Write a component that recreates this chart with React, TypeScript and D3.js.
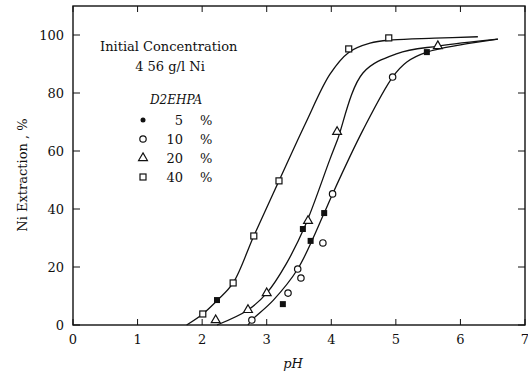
import { useEffect, useRef } from "react"
import * as d3 from "d3"

// pH values and Ni extraction (%)
const pH5 = [2.23, 3.25, 3.56, 3.68, 3.89, 5.48]
const ext5 = [8.6, 7.2, 33.1, 29.0, 38.6, 94.1]

const pH10 = [2.77, 3.33, 3.48, 3.53, 3.87, 4.02, 4.95]
const ext10 = [1.7, 11.0, 19.3, 16.2, 28.3, 45.2, 85.5]

const pH20 = [2.21, 2.71, 3.0, 3.64, 4.09, 5.65]
const ext20 = [1.7, 5.2, 11.0, 35.9, 66.6, 96.2]

const pH40 = [2.01, 2.48, 2.8, 3.19, 4.27, 4.89]
const ext40 = [3.8, 14.5, 30.7, 49.7, 95.2, 99.0]

// hand-drawn smoothed curves
const curveA_pH = [1.76, 2.01, 2.24, 2.48, 2.8, 3.19, 3.6, 3.98, 4.27, 4.6, 4.95, 5.6, 6.27]
const curveA_ext = [0, 3.8, 8.6, 14.5, 30.7, 49.7, 69.5, 86.5, 94.0, 97.2, 98.3, 98.9, 99.4]
const curveB_pH = [2.23, 2.71, 3.0, 3.3, 3.6, 3.98, 4.09, 4.49, 5.02, 5.65, 6.58]
const curveB_ext = [0, 5.2, 11, 21, 34.5, 57.2, 63.5, 86.9, 93.6, 96.2, 98.6]
const curveC_pH = [2.71, 2.77, 3.1, 3.48, 3.89, 4.02, 4.49, 4.95, 5.17, 5.48, 6.0, 6.58]
const curveC_ext = [0, 1.7, 8.5, 19.3, 38.6, 45.2, 67.2, 85.5, 90.7, 94.1, 96.6, 98.6]

const xTicks = [0, 1, 2, 3, 4, 5, 6, 7]
const yTicks = [0, 20, 40, 60, 80, 100]

const legendSymbols = ["filled", "circle", "triangle", "square"]
const legendLabels = ["5", "10", "20", "40"]

const font = "'DejaVu Serif', 'Liberation Serif', serif"

export default function App() {
  const svgRef = useRef<SVGSVGElement>(null)

  useEffect(() => {
    if (!svgRef.current) return
    const svg = d3.select(svgRef.current)
    svg.selectAll("*").remove()

    const x = d3.scaleLinear().domain([0, 7]).range([73, 525])
    const y = d3.scaleLinear().domain([0, 110]).range([325, 6])

    const g = svg.append("g")

    // frame
    g.append("rect")
      .attr("x", x(0))
      .attr("y", y(110))
      .attr("width", x(7) - x(0))
      .attr("height", y(0) - y(110))
      .attr("fill", "none")
      .attr("stroke", "#111")
      .attr("stroke-width", 1.4)

    // ticks
    xTicks.forEach((t) => {
      g.append("line").attr("x1", x(t)).attr("x2", x(t)).attr("y1", y(0)).attr("y2", y(0) - 6).attr("stroke", "#111")
      g.append("line").attr("x1", x(t)).attr("x2", x(t)).attr("y1", y(110)).attr("y2", y(110) + 6).attr("stroke", "#111")
      g.append("text")
        .attr("x", x(t))
        .attr("y", y(0) + 19)
        .attr("text-anchor", "middle")
        .attr("font-family", font)
        .attr("font-size", 13)
        .attr("fill", "#111")
        .text(t)
    })
    yTicks.forEach((t) => {
      g.append("line").attr("x1", x(0)).attr("x2", x(0) + 7).attr("y1", y(t)).attr("y2", y(t)).attr("stroke", "#111")
      g.append("line").attr("x1", x(7)).attr("x2", x(7) - 7).attr("y1", y(t)).attr("y2", y(t)).attr("stroke", "#111")
      g.append("text")
        .attr("x", x(0) - 9)
        .attr("y", y(t) + 5)
        .attr("text-anchor", "end")
        .attr("font-family", font)
        .attr("font-size", 13)
        .attr("fill", "#111")
        .text(t)
    })

    // axis titles
    g.append("text")
      .attr("x", 293)
      .attr("y", 368)
      .attr("text-anchor", "middle")
      .attr("font-family", font)
      .attr("font-size", 13)
      .attr("font-style", "italic")
      .attr("fill", "#111")
      .text("pH")
    g.append("text")
      .attr("transform", "translate(27,175) rotate(-90)")
      .attr("text-anchor", "middle")
      .attr("font-family", font)
      .attr("font-size", 13)
      .attr("fill", "#111")
      .text("Ni Extraction , %")

    // curves
    const line = d3
      .line<[number, number]>()
      .x((d) => x(d[0]))
      .y((d) => y(d[1]))
      .curve(d3.curveCatmullRom.alpha(0.5))
    const curves = [
      d3.zip(curveA_pH, curveA_ext),
      d3.zip(curveB_pH, curveB_ext),
      d3.zip(curveC_pH, curveC_ext),
    ] as [number, number][][]
    curves.forEach((c) => {
      g.append("path").attr("d", line(c)).attr("fill", "none").attr("stroke", "#111").attr("stroke-width", 1.3)
    })

    // markers
    const drawMarker = (sel: d3.Selection<SVGGElement, unknown, null, undefined>, kind: string, cx: number, cy: number) => {
      if (kind === "filled") {
        sel.append("rect").attr("x", cx - 3).attr("y", cy - 3).attr("width", 6).attr("height", 6).attr("fill", "#111")
      } else if (kind === "circle") {
        sel.append("circle").attr("cx", cx).attr("cy", cy).attr("r", 3.2).attr("fill", "#fff").attr("stroke", "#111").attr("stroke-width", 1.2)
      } else if (kind === "triangle") {
        const tri = d3.symbol().type(d3.symbolTriangle).size(34)
        sel.append("path").attr("transform", `translate(${cx},${cy})`).attr("d", tri()).attr("fill", "#fff").attr("stroke", "#111").attr("stroke-width", 1.2)
      } else {
        sel.append("rect").attr("x", cx - 3).attr("y", cy - 3).attr("width", 6).attr("height", 6).attr("fill", "#fff").attr("stroke", "#111").attr("stroke-width", 1.2)
      }
    }

    const series: [number[], number[], string][] = [
      [pH40, ext40, "square"],
      [pH20, ext20, "triangle"],
      [pH10, ext10, "circle"],
      [pH5, ext5, "filled"],
    ]
    const mg = g.append("g")
    series.forEach(([xs, ys, kind]) => {
      xs.forEach((v, i) => drawMarker(mg, kind, x(v), y(ys[i])))
    })

    // annotation and legend
    const ann = g.append("g").attr("font-family", font).attr("fill", "#111").attr("font-size", 13)
    ann.append("text").attr("x", 100).attr("y", 51).text("Initial Concentration")
    ann.append("text").attr("x", 170).attr("y", 71).attr("text-anchor", "middle").text("4 56 g/l   Ni")
    ann.append("text").attr("x", 150).attr("y", 104).attr("font-style", "italic").attr("font-size", 12).text("D2EHPA")
    const lg = g.append("g")
    legendSymbols.forEach((s, i) => {
      const ly = 120 + i * 19
      if (s === "filled") {
        lg.append("circle").attr("cx", 143).attr("cy", ly).attr("r", 2.5).attr("fill", "#111")
      } else {
        drawMarker(lg, s, 143, ly)
      }
      ann.append("text").attr("x", 183).attr("y", ly + 5).attr("text-anchor", "end").text(legendLabels[i])
      ann.append("text").attr("x", 200).attr("y", ly + 5).text("%")
    })
  }, [])

  return (
    <svg
      ref={svgRef}
      width={528}
      height={382}
      style={{ position: "absolute", left: 0, top: 0, background: "#fff" }}
    />
  )
}
